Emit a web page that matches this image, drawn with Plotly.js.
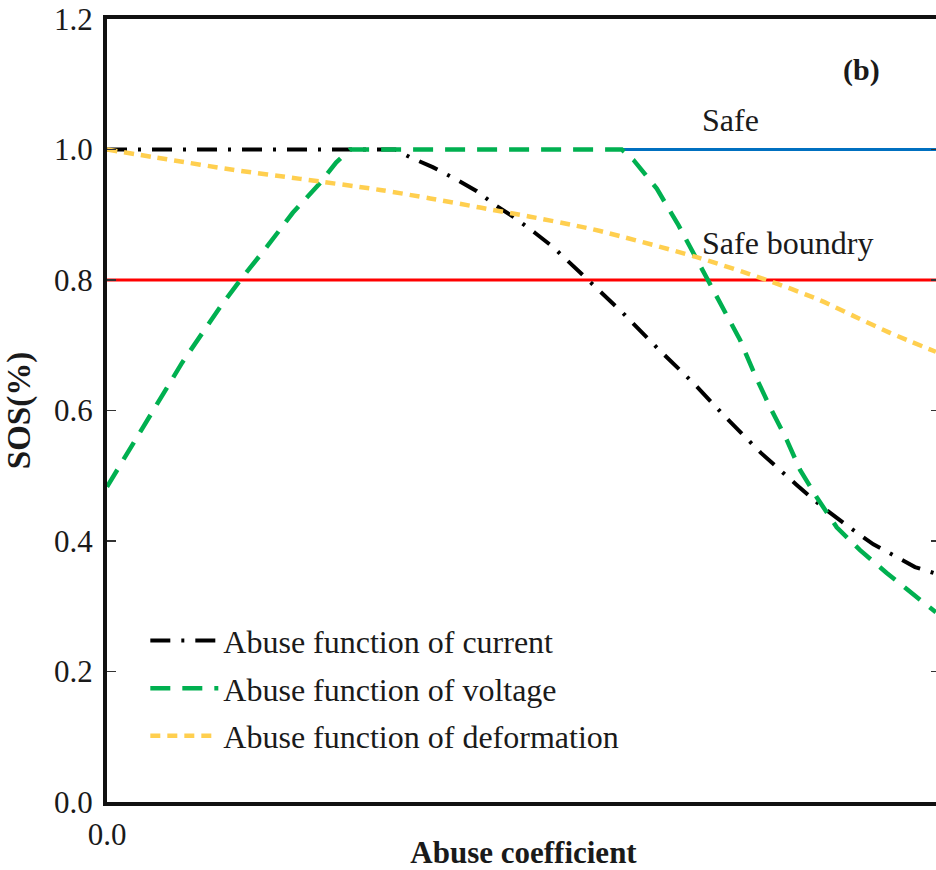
<!DOCTYPE html>
<html>
<head>
<meta charset="utf-8">
<script src="https://cdn.plot.ly/plotly-3.0.1.min.js"></script>
<style>
html,body{margin:0;padding:0;overflow:hidden;background:#fff;}
#chart{width:940px;height:870px;}
</style>
</head>
<body>
<div id="chart"></div>
<script>
// Data (x: fraction of the abuse-coefficient axis shown)
const currentX = [0, 0.346, 0.364, 0.391, 0.418, 0.444, 0.468, 0.490, 0.514, 0.535, 0.580, 0.622, 0.662, 0.704, 0.744, 0.785, 0.828, 0.856, 0.890, 0.920, 0.970, 0.995];
const currentY = [1.0, 1.0, 0.988, 0.973, 0.955, 0.936, 0.913, 0.895, 0.872, 0.851, 0.797, 0.746, 0.694, 0.642, 0.588, 0.535, 0.486, 0.455, 0.422, 0.395, 0.360, 0.350];

const voltageX = [0, 0.043, 0.090, 0.136, 0.160, 0.192, 0.223, 0.256, 0.275, 0.292, 0.618, 0.632, 0.660, 0.686, 0.724, 0.760, 0.778, 0.796, 0.816, 0.832, 0.852, 0.876, 0.904, 0.936, 0.976, 0.995];
const voltageY = [0.483, 0.575, 0.673, 0.759, 0.800, 0.851, 0.903, 0.949, 0.980, 1.0, 1.0, 0.984, 0.940, 0.884, 0.795, 0.708, 0.654, 0.605, 0.555, 0.509, 0.467, 0.421, 0.386, 0.351, 0.310, 0.291];

const deformX = [0, 0.072, 0.151, 0.232, 0.328, 0.388, 0.448, 0.508, 0.564, 0.592, 0.708, 0.792, 0.856, 0.896, 0.940, 0.995];
const deformY = [1.0, 0.985, 0.969, 0.955, 0.938, 0.925, 0.911, 0.897, 0.883, 0.875, 0.835, 0.800, 0.769, 0.745, 0.719, 0.690];

const safeX = [0.618, 1.0];
const safeY = [1.0, 1.0];
const boundaryX = [0, 1.0];
const boundaryY = [0.8, 0.8];

const seriesNames = ["Abuse function of current", "Abuse function of voltage", "Abuse function of deformation"];
const yTicks = [0, 0.2, 0.4, 0.6, 0.8, 1.0, 1.2];
const yTickText = ["0.0", "0.2", "0.4", "0.6", "0.8", "1.0", "1.2"];
const xTicks = [0];
const xTickText = ["0.0"];

const FONT = "'Liberation Serif', 'Times New Roman', Times, serif";
const TXT = "#1a1a1a";

const traces = [
  {x: boundaryX, y: boundaryY, mode: "lines", line: {color: "#FF0000", width: 3}, showlegend: false, hoverinfo: "skip"},
  {x: safeX, y: safeY, mode: "lines", line: {color: "#0070C0", width: 3}, showlegend: false, hoverinfo: "skip"},
  {x: currentX, y: currentY, name: seriesNames[0], legendgroup: "a", mode: "lines",
   line: {color: "#000000", width: 4, dash: "20px,11px,3px,11px"}},
  {x: voltageX, y: voltageY, name: seriesNames[1], legendgroup: "b", mode: "lines",
   line: {color: "#00B050", width: 4.5, dash: "20px,12px"}},
  {x: deformX, y: deformY, name: seriesNames[2], legendgroup: "c", mode: "lines",
   line: {color: "#FFCF4F", width: 4.5, dash: "10px,7px", shape: "spline", smoothing: 0.8}}
];

const layout = {
  width: 940, height: 870,
  margin: {l: 107, r: 0, t: 19, b: 68},
  paper_bgcolor: "#fff", plot_bgcolor: "#fff",
  font: {family: FONT, size: 31, color: TXT},
  showlegend: true,
  legend: {
    x: 0.046, y: 0.241, xanchor: "left", yanchor: "top",
    bgcolor: "rgba(0,0,0,0)", borderwidth: 0,
    font: {family: FONT, size: 32, color: TXT},
    tracegroupgap: 3, itemwidth: 68, traceorder: "grouped"
  },
  xaxis: {
    range: [0, 1], showgrid: false, zeroline: false,
    showline: true, linecolor: "#111", linewidth: 4, mirror: true,
    tickmode: "array", tickvals: xTicks, ticktext: xTickText,
    ticks: "", ticklabelstandoff: 2,
    tickfont: {family: FONT, size: 31, color: TXT},
    title: {text: "<b>Abuse coefficient</b>", font: {family: FONT, size: 31, color: TXT}, standoff: 8}
  },
  yaxis: {
    range: [0, 1.2], showgrid: false, zeroline: false,
    showline: true, linecolor: "#111", linewidth: 4, mirror: "ticks",
    tickmode: "array", tickvals: yTicks, ticktext: yTickText,
    ticks: "inside", ticklen: 9, tickwidth: 1.5, tickcolor: "#333",
    ticklabelstandoff: 4,
    tickfont: {family: FONT, size: 31, color: TXT},
    title: {text: "<b>SOS(%)</b>", font: {family: FONT, size: 33, color: TXT}, standoff: 14}
  },
  annotations: [
    {x: 0.906, y: 1.122, xref: "x", yref: "y", text: "<b>(b)</b>", showarrow: false,
     font: {family: FONT, size: 30, color: TXT}},
    {x: 0.748, y: 1.045, xref: "x", yref: "y", text: "Safe", showarrow: false,
     font: {family: FONT, size: 32, color: TXT}},
    {x: 0.712, y: 0.857, xref: "x", yref: "y", text: "Safe boundry", showarrow: false, xanchor: "left",
     font: {family: FONT, size: 32, color: TXT}}
  ]
};

Plotly.newPlot("chart", traces, layout, {displayModeBar: false, staticPlot: true});
</script>
</body>
</html>
